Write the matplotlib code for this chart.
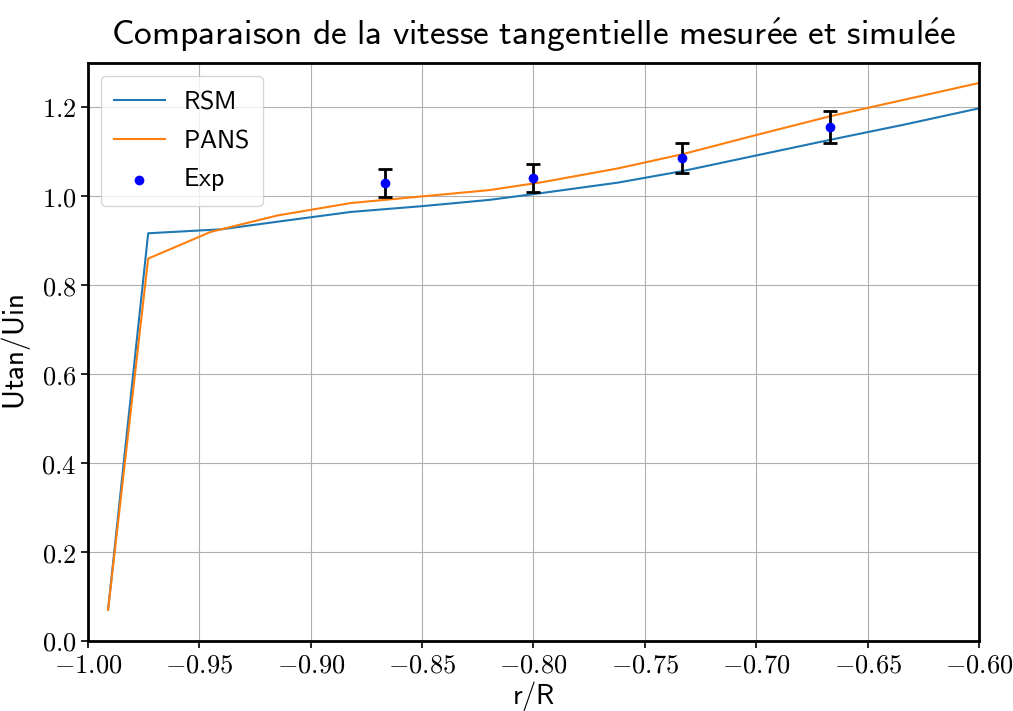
import numpy as np
import matplotlib
matplotlib.use("Agg")
import matplotlib.pyplot as plt
from matplotlib.ticker import FuncFormatter

plt.rcParams["mathtext.fontset"] = "cm"

# ── données ─────────────────────────────────────────────
r_rsm = [-0.991, -0.973, -0.94, -0.915, -0.882, -0.85, -0.82, -0.80,
         -0.762, -0.733, -0.70, -0.667, -0.633, -0.60]
u_rsm = [0.07, 0.917, 0.926, 0.943, 0.965, 0.978, 0.992, 1.005,
         1.031, 1.057, 1.092, 1.127, 1.162, 1.198]

r_pans = [-0.991, -0.973, -0.945, -0.915, -0.882, -0.85, -0.82, -0.796,
          -0.762, -0.733, -0.70, -0.667, -0.633, -0.60]
u_pans = [0.07, 0.86, 0.92, 0.957, 0.985, 1.0, 1.014, 1.032,
          1.063, 1.095, 1.138, 1.180, 1.218, 1.255]

r_exp = [-0.8667, -0.80, -0.7333, -0.6667]
u_exp = [1.030, 1.041, 1.086, 1.156]
err_exp = [0.031, 0.031, 0.033, 0.035]


def sf(s):
    return r"$\mathsf{" + s.replace(" ", r"\ ") + "}$"


fig = plt.figure(figsize=(10.13, 7.11), dpi=100)
ax = fig.add_axes([0.0869, 0.0985, 0.8795, 0.8129])

ax.plot(r_rsm, u_rsm, color="#1f77b4", lw=1.5, label=sf("RSM"))
ax.plot(r_pans, u_pans, color="#ff7f0e", lw=1.5, label=sf("PANS"))
ax.errorbar(r_exp, u_exp, yerr=err_exp, fmt="none", ecolor="black",
            elinewidth=2, capsize=5, capthick=2, zorder=3)
ax.scatter(r_exp, u_exp, color="blue", s=36, zorder=4, label=sf("Exp"))

ax.set_xlim(-1.0, -0.6)
ax.set_ylim(0.0, 1.3)
ax.set_xticks(np.arange(-1.0, -0.59, 0.05))
ax.set_yticks(np.arange(0.0, 1.21, 0.2))
ax.xaxis.set_major_formatter(FuncFormatter(lambda v, p: f"${v:.2f}$"))
ax.yaxis.set_major_formatter(FuncFormatter(lambda v, p: f"${v:.1f}$"))
ax.tick_params(labelsize=19, length=5, width=1.2)
ax.grid(True, color="#b0b0b0", lw=0.8)
for s in ax.spines.values():
    s.set_linewidth(2)

ax.set_xlabel(sf("r/R"), fontsize=20.5, labelpad=0)
ax.set_ylabel(sf("Utan/Uin"), fontsize=21, labelpad=6)
ax.set_title(sf(r"Comparaison de la vitesse tangentielle mesur\acute{e}e et simul\acute{e}e"),
             fontsize=25.5, pad=13)
ax.legend(loc="upper left", fontsize=18.5, handlelength=2.0, handletextpad=0.7,
          borderpad=0.5, labelspacing=0.5)

fig.savefig("out.png", dpi=100)
